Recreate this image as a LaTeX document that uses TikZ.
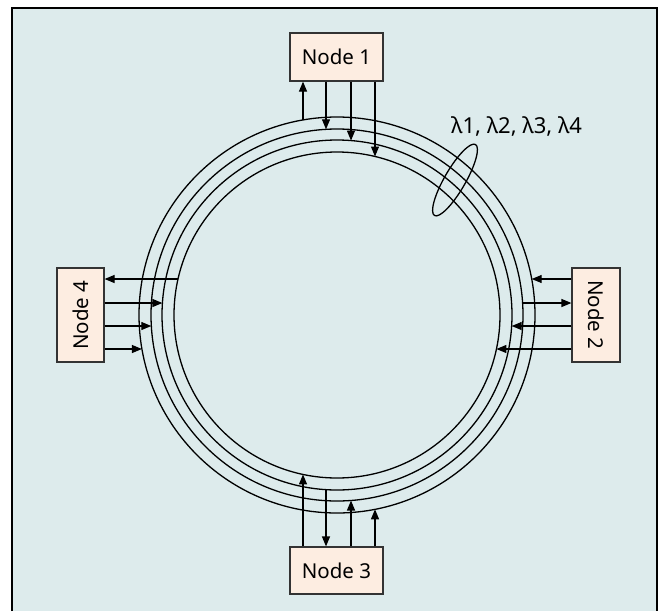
\documentclass[tikz,border=0pt]{standalone}
\usepackage{fontspec}
\setmainfont{Noto Sans}
\usetikzlibrary{arrows.meta,shapes.geometric}
\definecolor{bgc}{RGB}{221,235,236}
\definecolor{nodec}{RGB}{253,237,225}
\tikzset{
  nodebox/.style={draw=black!80, line width=1.2pt, fill=nodec, inner sep=0pt, font=\fontsize{20.5}{24}\selectfont},
  ring/.style={line width=1.3pt},
  arr/.style={line width=1.2pt, -{Triangle[length=10pt,width=8pt]}},
  framepen/.style={line width=1.6pt},
}
\begin{document}
\begin{tikzpicture}[x=1pt,y=-1pt]
\useasboundingbox (0,0) rectangle (663,611);
% frame
\fill[bgc] (12,8) rectangle (657,611);
\draw[framepen] (12,611) -- (12,8) -- (657,8) -- (657,611);
% rings
\coordinate (c) at (337,315);
\draw[ring] (c) circle[radius=198];
\draw[ring] (c) circle[radius=186];
\draw[ring] (c) circle[radius=175];
\draw[ring] (c) circle[radius=163];
% nodes
\node[nodebox, minimum width=93pt, minimum height=48pt] (n1) at (336.5,57) {Node 1};
\node[nodebox, minimum width=93pt, minimum height=47pt] (n3) at (336.5,570.5) {Node 3};
\node[nodebox, minimum width=48pt, minimum height=94pt] (n2) at (596,315) {\rotatebox{-90}{Node 2}};
\node[nodebox, minimum width=47pt, minimum height=94pt] (n4) at (80.5,315) {\rotatebox{90}{Node 4}};
% ring points, node 1
\coordinate (t1) at (303,119.9);
\coordinate (t2) at (326,129.3);
\coordinate (t3) at (351,140.6);
\coordinate (t4) at (375,156.5);
\draw[arr] (t1) -- (t1 |- n1.south);
\draw[arr] (t2 |- n1.south) -- (t2);
\draw[arr] (t3 |- n1.south) -- (t3);
\draw[arr] (t4 |- n1.south) -- (t4);
% node 3
\coordinate (b1) at (303,474.4);
\coordinate (b2) at (326,489.7);
\coordinate (b3) at (351,500.5);
\coordinate (b4) at (375,509.3);
\draw[arr] (b1 |- n3.north) -- (b1);
\draw[arr] (b2) -- (b2 |- n3.north);
\draw[arr] (b3 |- n3.north) -- (b3);
\draw[arr] (b4 |- n3.north) -- (b4);
% node 2
\coordinate (r1) at (531.7,279);
\coordinate (r2) at (522.6,303);
\coordinate (r3) at (511.7,326);
\coordinate (r4) at (496.4,349);
\draw[arr] (r1 -| n2.west) -- (r1);
\draw[arr] (r2) -- (r2 -| n2.west);
\draw[arr] (r3 -| n2.west) -- (r3);
\draw[arr] (r4 -| n2.west) -- (r4);
% node 4
\coordinate (l1) at (178.0,279);
\coordinate (l2) at (162.4,303);
\coordinate (l3) at (151.3,326);
\coordinate (l4) at (141.9,349);
\draw[arr] (l1) -- (l1 -| n4.east);
\draw[arr] (l2 -| n4.east) -- (l2);
\draw[arr] (l3 -| n4.east) -- (l3);
\draw[arr] (l4 -| n4.east) -- (l4);
% wavelength bundle
\node[draw, ellipse, line width=1.3pt, rotate=60, minimum width=82pt, minimum height=21pt, inner sep=0pt] (ell) at (455,180) {};
\node[anchor=base west, inner sep=0pt, font=\fontsize{22}{26}\selectfont] (lam) at (451,133) {λ1, λ2, λ3, λ4};
\end{tikzpicture}
\end{document}
